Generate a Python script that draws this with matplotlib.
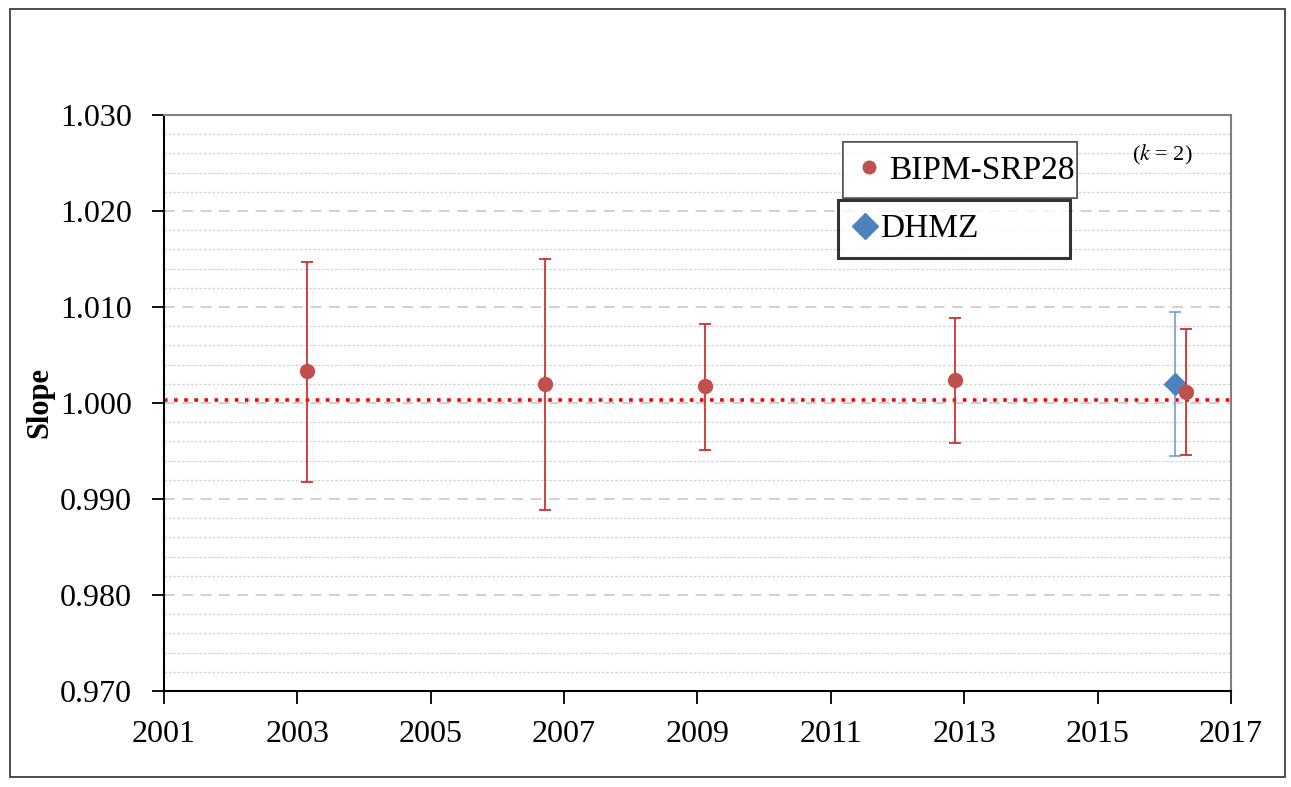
import matplotlib.pyplot as plt
from matplotlib.lines import Line2D
from matplotlib.patches import Rectangle
import numpy as np

plt.rcParams['font.family'] = ['Liberation Serif', 'DejaVu Serif']
plt.rcParams['mathtext.fontset'] = 'stix'

# BIPM-SRP28 comparisons
bipm_year = [2003.14, 2006.71, 2009.11, 2012.86, 2016.32]
bipm_slope = [1.00333, 1.00198, 1.00177, 1.00240, 1.00115]
bipm_err_up = [0.01136, 0.01302, 0.00646, 0.00645, 0.00656]
bipm_err_dn = [0.01156, 0.01313, 0.00667, 0.00657, 0.00657]

# DHMZ
dhmz_year = [2016.16]
dhmz_slope = [1.00198]
dhmz_err_up = [0.00750]
dhmz_err_dn = [0.00750]

ref_slope = 1.00031
xticks = [2001, 2003, 2005, 2007, 2009, 2011, 2013, 2015, 2017]

fig = plt.figure(figsize=(12.91, 7.87), dpi=100)
ax = fig.add_axes([0.127, 0.122, 0.8265, 0.732])

ax.axhline(ref_slope, color='#FF0000', linestyle=(0, (1, 1.8)), linewidth=2.6, zorder=2)

ax.errorbar(dhmz_year, dhmz_slope, yerr=[dhmz_err_dn, dhmz_err_up], fmt='D',
            color='#4F81BD', ms=11, ecolor='#7FA6D6', elinewidth=1.3, capsize=4.5,
            capthick=1.3, zorder=4)
ax.errorbar(bipm_year, bipm_slope, yerr=[bipm_err_dn, bipm_err_up], fmt='o',
            color='#C0504D', ms=10, ecolor='#D03030', elinewidth=1.3, capsize=4.5,
            capthick=1.3, zorder=5)

ax.set_xlim(2001, 2017)
ax.set_ylim(0.970, 1.030)
ax.set_xticks(xticks)
ax.set_yticks(np.arange(0.970, 1.0301, 0.010))
ax.set_yticks(np.arange(0.970, 1.0301, 0.002), minor=True)
ax.set_yticklabels(['%.3f' % v for v in np.arange(0.970, 1.0301, 0.010)])
ax.tick_params(axis='both', which='major', labelsize=23, direction='out', length=9,
               width=1.3, color='black')
ax.tick_params(axis='y', which='major', pad=14)
ax.tick_params(axis='x', which='major', pad=12)
ax.tick_params(axis='y', which='minor', length=0)

ax.grid(True, axis='y', which='major', color='#C4C4C4', linestyle=(0, (7, 5)), linewidth=1.1)
ax.grid(True, axis='y', which='minor', color='#D2D2D2', linestyle=(0, (2, 1.5)), linewidth=0.9)
ax.set_axisbelow(True)

for s in ['left', 'bottom']:
    ax.spines[s].set_color('black')
    ax.spines[s].set_linewidth(1.5)
for s in ['top', 'right']:
    ax.spines[s].set_color('#808080')
    ax.spines[s].set_linewidth(1.5)

ax.set_ylabel('Slope', fontsize=22, fontweight='bold')
ax.yaxis.set_label_coords(-0.103, 0.5)

h1 = Line2D([], [], marker='o', color='#C0504D', linestyle='none', ms=9)
h2 = Line2D([], [], marker='D', color='#4F81BD', linestyle='none', ms=13)
leg1 = fig.legend([h1], ['BIPM-SRP28'], loc='upper left',
                  bbox_to_anchor=(0.653, 0.753, 0.181, 0.066), mode='expand',
                  fontsize=24, frameon=True, fancybox=False, edgecolor='#404040',
                  handlelength=0.8, handletextpad=0.2, borderpad=0.38, borderaxespad=0)
leg1.get_frame().set_linewidth(1.2)
leg2 = fig.legend([h2], ['DHMZ'], loc='upper left',
                  bbox_to_anchor=(0.649, 0.676, 0.180, 0.070), mode='expand',
                  fontsize=24, frameon=True, fancybox=False, edgecolor='black',
                  handlelength=0.8, handletextpad=0.05, borderpad=0.42, borderaxespad=0)
leg2.get_frame().set_linewidth(2.2)
fig.add_artist(leg1)

fig.text(0.9, 0.803, r'($\mathit{k}$ = 2)', fontsize=16, ha='center', va='center')

fig.add_artist(Rectangle((0.008, 0.013), 0.987, 0.975, transform=fig.transFigure,
                         fill=False, edgecolor='#404040', linewidth=1.3))

fig.savefig('out.png', dpi=100)
